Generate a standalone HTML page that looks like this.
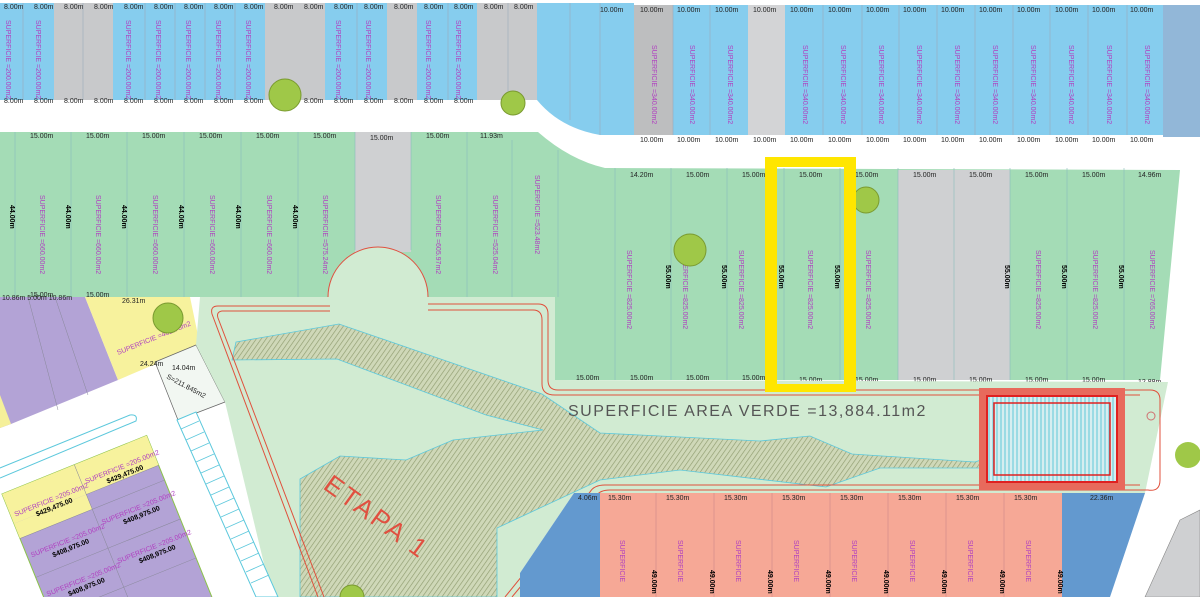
<!DOCTYPE html>
<html><head><meta charset="utf-8"><style>
html,body{margin:0;padding:0;background:#fff;width:1200px;height:597px;overflow:hidden}
svg{display:block;font-family:"Liberation Sans",sans-serif}
.d{font-size:7px;fill:#222}
.s{font-size:7px;fill:#b040c0}
.b{font-size:7px;fill:#000;font-weight:bold}
</style></head><body>
<svg width="1200" height="597" viewBox="0 0 1200 597" xmlns="http://www.w3.org/2000/svg">
<defs>
<pattern id="h" width="4" height="4" patternUnits="userSpaceOnUse" patternTransform="rotate(35)">
<rect width="4" height="4" fill="#cfd8b8"/><line x1="0" y1="0" x2="0" y2="4" stroke="#8f9c70" stroke-width="1.3"/></pattern>
<pattern id="cy" width="4" height="4" patternUnits="userSpaceOnUse">
<rect width="4" height="4" fill="#d6eef0"/><line x1="1" y1="0" x2="1" y2="4" stroke="#5fc8d8" stroke-width="1"/></pattern>
</defs>
<rect width="1200" height="597" fill="#fff"/>

<rect x="0" y="3" width="540" height="97" fill="#86cdee"/>
<path d="M537,3 L634,3 L634,135 L600,135 Q560,128 537,100 Z" fill="#86cdee"/>
<rect x="634" y="5" width="530" height="130" fill="#86cdee"/>
<rect x="1163" y="5" width="37" height="132" fill="#92b7d8"/>
<g fill="#c8c9cb">
<rect x="54" y="3" width="59" height="97"/><rect x="265" y="3" width="60" height="97"/>
<rect x="387" y="3" width="30" height="97"/><rect x="477" y="3" width="60" height="97"/>
<rect x="634" y="5" width="39" height="130" fill="#bdbebf"/><rect x="748" y="5" width="37" height="130" fill="#d3d4d6"/>
</g>
<g stroke="#9ab" stroke-width="0.6">
<path d="M23,3V100M83,3V100M145,3V100M175,3V100M205,3V100M235,3V100M357,3V100M448,3V100M508,3V100M570,3V120M600,3V135M673,5V135M710,5V135M823,5V135M862,5V135M899,5V135M937,5V135M975,5V135M1013,5V135M1050,5V135M1088,5V135M1127,5V135"/>
</g>
<g class="d">
<text x="4" y="9">8.00m</text><text x="34" y="9">8.00m</text><text x="64" y="9">8.00m</text><text x="94" y="9">8.00m</text><text x="124" y="9">8.00m</text><text x="154" y="9">8.00m</text><text x="184" y="9">8.00m</text><text x="214" y="9">8.00m</text><text x="244" y="9">8.00m</text><text x="274" y="9">8.00m</text><text x="304" y="9">8.00m</text><text x="334" y="9">8.00m</text><text x="364" y="9">8.00m</text><text x="394" y="9">8.00m</text><text x="424" y="9">8.00m</text><text x="454" y="9">8.00m</text><text x="484" y="9">8.00m</text><text x="514" y="9">8.00m</text>
<text x="4" y="103">8.00m</text><text x="34" y="103">8.00m</text><text x="64" y="103">8.00m</text><text x="94" y="103">8.00m</text><text x="124" y="103">8.00m</text><text x="154" y="103">8.00m</text><text x="184" y="103">8.00m</text><text x="214" y="103">8.00m</text><text x="244" y="103">8.00m</text><text x="304" y="103">8.00m</text><text x="334" y="103">8.00m</text><text x="364" y="103">8.00m</text><text x="394" y="103">8.00m</text><text x="424" y="103">8.00m</text><text x="454" y="103">8.00m</text>
<text x="600" y="12">10.00m</text><text x="640" y="12">10.00m</text><text x="677" y="12">10.00m</text><text x="715" y="12">10.00m</text><text x="753" y="12">10.00m</text><text x="790" y="12">10.00m</text><text x="828" y="12">10.00m</text><text x="866" y="12">10.00m</text><text x="903" y="12">10.00m</text><text x="941" y="12">10.00m</text><text x="979" y="12">10.00m</text><text x="1017" y="12">10.00m</text><text x="1055" y="12">10.00m</text><text x="1092" y="12">10.00m</text><text x="1130" y="12">10.00m</text>
<text x="640" y="142">10.00m</text><text x="677" y="142">10.00m</text><text x="715" y="142">10.00m</text><text x="753" y="142">10.00m</text><text x="790" y="142">10.00m</text><text x="828" y="142">10.00m</text><text x="866" y="142">10.00m</text><text x="903" y="142">10.00m</text><text x="941" y="142">10.00m</text><text x="979" y="142">10.00m</text><text x="1017" y="142">10.00m</text><text x="1055" y="142">10.00m</text><text x="1092" y="142">10.00m</text><text x="1130" y="142">10.00m</text>
</g>
<g class="s">
<text transform="translate(6,20) rotate(90)">SUPERFICIE =200.00m2</text><text transform="translate(36,20) rotate(90)">SUPERFICIE =200.00m2</text><text transform="translate(126,20) rotate(90)">SUPERFICIE =200.00m2</text><text transform="translate(156,20) rotate(90)">SUPERFICIE =200.00m2</text><text transform="translate(186,20) rotate(90)">SUPERFICIE =200.00m2</text><text transform="translate(216,20) rotate(90)">SUPERFICIE =200.00m2</text><text transform="translate(246,20) rotate(90)">SUPERFICIE =200.00m2</text><text transform="translate(336,20) rotate(90)">SUPERFICIE =200.00m2</text><text transform="translate(366,20) rotate(90)">SUPERFICIE =200.00m2</text><text transform="translate(426,20) rotate(90)">SUPERFICIE =200.00m2</text><text transform="translate(456,20) rotate(90)">SUPERFICIE =200.00m2</text>
<text transform="translate(652,45) rotate(90)">SUPERFICIE =340.00m2</text><text transform="translate(690,45) rotate(90)">SUPERFICIE =340.00m2</text><text transform="translate(728,45) rotate(90)">SUPERFICIE =340.00m2</text><text transform="translate(803,45) rotate(90)">SUPERFICIE =340.00m2</text><text transform="translate(841,45) rotate(90)">SUPERFICIE =340.00m2</text><text transform="translate(879,45) rotate(90)">SUPERFICIE =340.00m2</text><text transform="translate(917,45) rotate(90)">SUPERFICIE =340.00m2</text><text transform="translate(955,45) rotate(90)">SUPERFICIE =340.00m2</text><text transform="translate(993,45) rotate(90)">SUPERFICIE =340.00m2</text><text transform="translate(1031,45) rotate(90)">SUPERFICIE =340.00m2</text><text transform="translate(1069,45) rotate(90)">SUPERFICIE =340.00m2</text><text transform="translate(1107,45) rotate(90)">SUPERFICIE =340.00m2</text><text transform="translate(1145,45) rotate(90)">SUPERFICIE =340.00m2</text>
</g>

<path d="M0,132 L538,132 Q570,160 605,168 L1180,170 L1160,380 L555,380 L555,297 L0,297 Z" fill="#a4dcb6"/>
<rect x="355" y="132" width="56" height="120" fill="#cfd0d2"/>
<rect x="898" y="170" width="112" height="210" fill="#cfd0d2"/>
<g stroke="#8bb" stroke-width="0.6">
<path d="M15,132V297M71,132V297M127,132V297M184,132V297M241,132V297M298,132V297M355,132V250M411,132V250M467,132V297M512,140V297M558,150V297M615,168V380M671,168V380M727,168V380M784,168V380M840,168V380M898,168V380M954,168V380M1010,168V380M1067,168V380M1124,168V380"/>
</g>
<g class="d">
<text x="30" y="138">15.00m</text><text x="86" y="138">15.00m</text><text x="142" y="138">15.00m</text><text x="199" y="138">15.00m</text><text x="256" y="138">15.00m</text><text x="313" y="138">15.00m</text><text x="370" y="140">15.00m</text><text x="426" y="138">15.00m</text><text x="480" y="138">11.93m</text>
<text x="630" y="177">14.20m</text><text x="686" y="177">15.00m</text><text x="742" y="177">15.00m</text><text x="799" y="177">15.00m</text><text x="855" y="177">15.00m</text><text x="913" y="177">15.00m</text><text x="969" y="177">15.00m</text><text x="1025" y="177">15.00m</text><text x="1082" y="177">15.00m</text><text x="1138" y="177">14.96m</text>
<text x="30" y="297">15.00m</text><text x="86" y="297">15.00m</text><text x="200" y="302">15.00m</text><text x="270" y="302">15.00m</text><text x="450" y="304">4.91m</text><text x="480" y="304">11.93m</text><text x="520" y="304">11.93m</text>
<text x="576" y="380">15.00m</text><text x="630" y="380">15.00m</text><text x="686" y="380">15.00m</text><text x="742" y="380">15.00m</text><text x="799" y="382">15.00m</text><text x="855" y="382">15.00m</text><text x="913" y="382">15.00m</text><text x="969" y="382">15.00m</text><text x="1025" y="382">15.00m</text><text x="1082" y="382">15.00m</text><text x="1138" y="384">12.88m</text>
</g>
<g class="s">
<text transform="translate(40,195) rotate(90)">SUPERFICIE =660.00m2</text><text transform="translate(96,195) rotate(90)">SUPERFICIE =660.00m2</text><text transform="translate(153,195) rotate(90)">SUPERFICIE =660.00m2</text><text transform="translate(210,195) rotate(90)">SUPERFICIE =660.00m2</text><text transform="translate(267,195) rotate(90)">SUPERFICIE =660.00m2</text><text transform="translate(323,195) rotate(90)">SUPERFICIE =575.24m2</text><text transform="translate(436,195) rotate(90)">SUPERFICIE =605.97m2</text><text transform="translate(493,195) rotate(90)">SUPERFICIE =525.04m2</text><text transform="translate(535,175) rotate(90)">SUPERFICIE =523.48m2</text>
<text transform="translate(627,250) rotate(90)">SUPERFICIE =825.00m2</text><text transform="translate(683,250) rotate(90)">SUPERFICIE =825.00m2</text><text transform="translate(739,250) rotate(90)">SUPERFICIE =825.00m2</text><text transform="translate(808,250) rotate(90)">SUPERFICIE =825.00m2</text><text transform="translate(866,250) rotate(90)">SUPERFICIE =825.00m2</text><text transform="translate(1036,250) rotate(90)">SUPERFICIE =825.00m2</text><text transform="translate(1093,250) rotate(90)">SUPERFICIE =825.00m2</text><text transform="translate(1150,250) rotate(90)">SUPERFICIE =765.00m2</text>
</g>
<g class="b">
<text transform="translate(10,205) rotate(90)">44.00m</text><text transform="translate(66,205) rotate(90)">44.00m</text><text transform="translate(122,205) rotate(90)">44.00m</text><text transform="translate(179,205) rotate(90)">44.00m</text><text transform="translate(236,205) rotate(90)">44.00m</text><text transform="translate(293,205) rotate(90)">44.00m</text>
<text transform="translate(779,265) rotate(90)">55.00m</text><text transform="translate(835,265) rotate(90)">55.00m</text><text transform="translate(666,265) rotate(90)">55.00m</text><text transform="translate(722,265) rotate(90)">55.00m</text><text transform="translate(1005,265) rotate(90)">55.00m</text><text transform="translate(1062,265) rotate(90)">55.00m</text><text transform="translate(1119,265) rotate(90)">55.00m</text>
</g>

<path d="M0,297 L85,297 L118,380 L11,424 L0,428 Z" fill="#b3a3d6"/>
<path d="M0,395 L11,424 L0,428 Z" fill="#f5f09a"/>
<path d="M85,297 L190,297 L200,345 L118,380 Z" fill="#f7f29d"/>
<path d="M155,362 L196,345 L225,402 L178,420 Z" fill="#f2f7f2" stroke="#666" stroke-width="0.7"/>
<g stroke="#889" stroke-width="0.5"><path d="M28,297L58,410M55,297L88,395"/></g>
<g class="d"><text x="2" y="300">10.86m 5.00m 10.86m</text><text x="122" y="303">26.31m</text><text x="140" y="366">24.24m</text><text x="172" y="370">14.04m</text><text transform="translate(166,378) rotate(28)">S=211.845m2</text></g>
<g class="s"><text transform="translate(118,355) rotate(-22)">SUPERFICIE =462.76m2</text></g>

<path d="M200,297 L328,297 A50,50 0 0 1 428,297 L555,297 L555,380 L1168,382 L1145,493 L600,493 L574,493 L520,573 L520,597 L272,597 L225,402 L196,345 Z" fill="#d1ebd2"/>
<path d="M328,297 A50,50 0 0 1 428,297" fill="#d1ebd2" stroke="#e05040" stroke-width="1"/>
<path d="M177,420 L196,412 L278,597 L256,597 Z" fill="#fff" stroke="#5cc8dc" stroke-width="1"/>
<g stroke="#5cc8dc" stroke-width="0.8">
<path d="M181,429L199,421M186,440L204,432M191,451L209,443M196,462L214,454M201,473L219,465M206,484L224,476M211,495L229,487M216,506L234,498M221,517L239,509M226,528L244,520M231,539L249,531M236,550L254,542M241,561L259,553M246,572L264,564M251,583L269,575"/>
</g>

<path d="M236,342 L339,324 L542,394 L600,433 L760,441 L810,436 L852,454 L975,462 L1010,450 L1010,468 L880,468 L826,487 L680,470 L600,480 L497,528 L497,597 L300,597 L300,479 L340,456 L406,460 L453,440 L543,430 L486,415 L337,359 L232,360 Z" fill="url(#h)" stroke="#5cc8dc" stroke-width="0.8"/>

<g fill="none" stroke="#e0503c" stroke-width="1">
<path d="M330,306 L218,306 Q210,306 212,314 L318,597"/>
<path d="M330,311 L222,311 Q216,312 218,318 L324,597"/>
<path d="M428,304 L538,304 Q548,304 548,314 L548,380 Q548,390 558,390 L1150,390 Q1160,390 1160,400 L1160,480 Q1160,492 1148,490 L610,490 Q600,490 596,496 L512,597"/>
<path d="M428,310 L533,310 Q542,310 542,320 L542,384 Q542,395 555,395 L1140,395 M1140,485 L605,485 Q594,485 590,492 L505,597"/>
</g>

<rect x="979" y="388" width="146" height="102" fill="#e86a5c"/>
<rect x="987" y="396" width="130" height="86" fill="url(#cy)" stroke="#e02020" stroke-width="2"/>
<rect x="994" y="403" width="116" height="72" fill="none" stroke="#e02020" stroke-width="1.5"/>
<circle cx="1151" cy="416" r="4" fill="none" stroke="#d07070"/>

<text x="568" y="416" font-size="16" fill="#555" letter-spacing="1.5">SUPERFICIE AREA VERDE =13,884.11m2</text>
<text transform="translate(322,488) rotate(36)" font-size="26" fill="#e05040" letter-spacing="3">ETAPA 1</text>

<rect x="598" y="493" width="464" height="104" fill="#f6a896"/>
<g stroke="#c88" stroke-width="0.6"><path d="M656,493V597M714,493V597M772,493V597M830,493V597M888,493V597M946,493V597M1004,493V597"/></g>
<path d="M1062,493 L1145,493 L1110,597 L1062,597 Z" fill="#6399cf"/>
<path d="M574,493 L600,493 L600,597 L520,597 L520,573 Z" fill="#6399cf"/>
<g class="d"><text x="608" y="500">15.30m</text><text x="666" y="500">15.30m</text><text x="724" y="500">15.30m</text><text x="782" y="500">15.30m</text><text x="840" y="500">15.30m</text><text x="898" y="500">15.30m</text><text x="956" y="500">15.30m</text><text x="1014" y="500">15.30m</text><text x="1090" y="500">22.36m</text><text x="578" y="500">4.06m</text></g>
<g class="s"><text transform="translate(620,540) rotate(90)">SUPERFICIE</text><text transform="translate(678,540) rotate(90)">SUPERFICIE</text><text transform="translate(736,540) rotate(90)">SUPERFICIE</text><text transform="translate(794,540) rotate(90)">SUPERFICIE</text><text transform="translate(852,540) rotate(90)">SUPERFICIE</text><text transform="translate(910,540) rotate(90)">SUPERFICIE</text><text transform="translate(968,540) rotate(90)">SUPERFICIE</text><text transform="translate(1026,540) rotate(90)">SUPERFICIE</text></g>
<g class="b"><text transform="translate(652,570) rotate(90)">49.00m</text><text transform="translate(710,570) rotate(90)">49.00m</text><text transform="translate(768,570) rotate(90)">49.00m</text><text transform="translate(826,570) rotate(90)">49.00m</text><text transform="translate(884,570) rotate(90)">49.00m</text><text transform="translate(942,570) rotate(90)">49.00m</text><text transform="translate(1000,570) rotate(90)">49.00m</text><text transform="translate(1058,570) rotate(90)">49.00m</text></g>

<path d="M1180,520 L1200,510 L1200,597 L1145,597 Z" fill="#cfd0d2" stroke="#888" stroke-width="0.6"/>
<circle cx="1188" cy="455" r="13" fill="#9fc848"/>

<g transform="translate(2,494) rotate(-22)">
<rect x="0" y="0" width="156" height="180" fill="#b3a3d6" stroke="#8bc34a" stroke-width="1"/>
<rect x="0" y="0" width="156" height="32" fill="#f7f29d"/>
<rect x="0" y="32" width="78" height="16" fill="#f7f29d"/>
<g stroke="#889" stroke-width="0.5"><path d="M78,0V180M0,48H156M0,90H156M0,132H156M78,32H156"/></g>
<g class="s"><text x="4" y="26">SUPERFICIE =205.00m2</text><text x="82" y="22">SUPERFICIE =205.00m2</text><text x="4" y="70">SUPERFICIE =205.00m2</text><text x="82" y="66">SUPERFICIE =205.00m2</text><text x="4" y="112">SUPERFICIE =205.00m2</text><text x="82" y="108">SUPERFICIE =205.00m2</text></g>
<g class="b"><text x="24" y="34">$429,475.00</text><text x="102" y="30">$429,475.00</text><text x="24" y="78">$408,975.00</text><text x="102" y="74">$408,975.00</text><text x="24" y="120">$408,975.00</text><text x="102" y="116">$408,975.00</text></g>
</g>
<path d="M-5,470 L130,415 Q138,414 136,421 L0,478" fill="none" stroke="#5cc8dc" stroke-width="1"/>

<g fill="#9fc848" stroke="#7a9a30" stroke-width="1">
<circle cx="285" cy="95" r="16"/><circle cx="513" cy="103" r="12"/><circle cx="168" cy="318" r="15"/><circle cx="690" cy="250" r="16"/><circle cx="866" cy="200" r="13"/><circle cx="352" cy="597" r="12"/>
</g>

<path d="M765,157 L856,157 L856,392 L765,392 Z M777,167 L844,167 L844,384 L777,384 Z" fill="#ffe600" fill-rule="evenodd"/>
</svg>
</body></html>
